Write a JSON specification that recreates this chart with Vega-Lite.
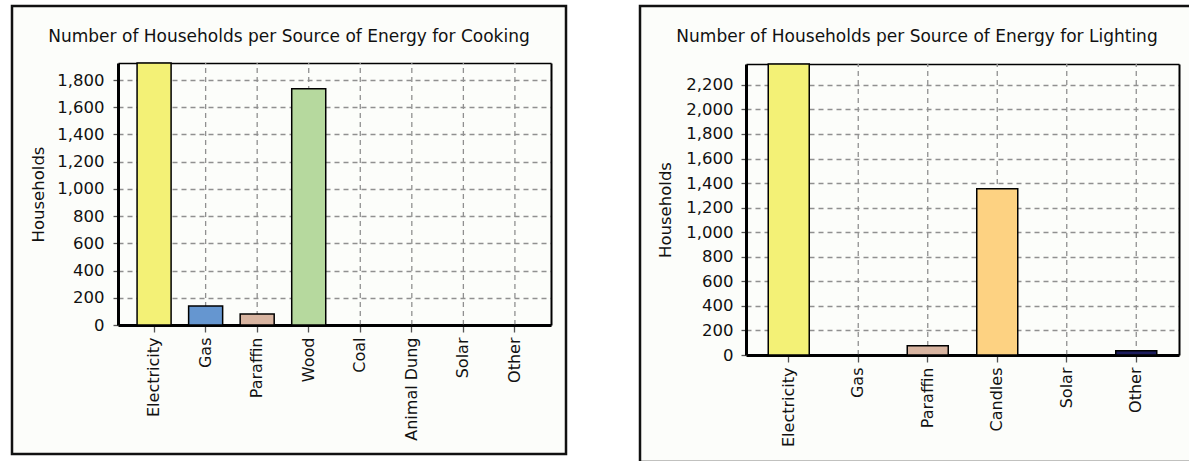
{
  "$schema": "https://vega.github.io/schema/vega-lite/v6.json",
  "padding": {"left": 10, "top": 4, "right": 0, "bottom": 0},
  "background": "#ffffff",
  "datasets": {
    "cooking": [
      {"source": "Electricity", "households": 2000},
      {"source": "Gas", "households": 140},
      {"source": "Paraffin", "households": 80},
      {"source": "Wood", "households": 1735},
      {"source": "Coal", "households": 0},
      {"source": "Animal Dung", "households": 0},
      {"source": "Solar", "households": 0},
      {"source": "Other", "households": 0}
    ],
    "lighting": [
      {"source": "Electricity", "households": 2450},
      {"source": "Gas", "households": 0},
      {"source": "Paraffin", "households": 75},
      {"source": "Candles", "households": 1355},
      {"source": "Solar", "households": 0},
      {"source": "Other", "households": 35}
    ]
  },
  "hconcat": [
    {
      "width": 554,
      "height": 448,
      "data": {"name": "cooking"},
      "title": {"text": "Number of Households per Source of Energy for Cooking", "offset": -53, "baseline": "alphabetic"},
      "layer": [
        {
          "mark": {"type": "rule", "stroke": "#909090", "strokeDash": [5, 4], "strokeWidth": 1.3},
          "encoding": {
            "x": {"field": "source", "type": "nominal", "sort": null, "axis": null},
            "y": {"datum": 0, "type": "quantitative", "axis": null},
            "y2": {"datum": 1925}
          }
        },
        {
          "mark": {"type": "bar", "stroke": "#000000", "strokeWidth": 1.5},
          "encoding": {
            "x": {
              "field": "source", "type": "nominal", "sort": null,
              "scale": {"range": [106, 539], "paddingInner": 0.34, "paddingOuter": 0.37},
              "axis": {"orient": "bottom", "offset": -129, "labelAngle": -90, "labelAlign": "right", "labelBaseline": "middle", "labelPadding": 5, "labelFontSize": 16, "tickSize": 7, "title": null, "grid": false}
            },
            "y": {
              "field": "households", "type": "quantitative",
              "scale": {"domain": [0, 1925], "range": [319, 57], "clamp": true, "nice": false},
              "axis": {"orient": "left", "offset": -106, "values": [0, 200, 400, 600, 800, 1000, 1200, 1400, 1600, 1800], "format": ",d", "tickSize": 5, "labelPadding": 9, "title": "Households", "titlePadding": 10, "grid": true}
            },
            "color": {
              "field": "source", "type": "nominal", "legend": null,
              "scale": {
                "domain": ["Electricity", "Gas", "Paraffin", "Wood", "Coal", "Animal Dung", "Solar", "Other"],
                "range": ["#f3f176", "#6596d0", "#d8b4a0", "#b6d99e", "#777777", "#a0785a", "#ffd24a", "#1c1c5e"]
              }
            }
          }
        },
        {
          "mark": {"type": "bar", "opacity": 0},
          "encoding": {
            "x": {"field": "source", "type": "nominal", "sort": null,
              "axis": {"orient": "top", "offset": -57, "labels": false, "ticks": false, "grid": false, "title": null, "domainWidth": 1.5}},
            "y": {"field": "households", "type": "quantitative",
              "axis": {"orient": "right", "offset": -15, "labels": false, "ticks": false, "grid": false, "title": null, "domainWidth": 2}}
          }
        }
      ],
      "resolve": {"axis": {"x": "independent", "y": "independent"}}
    },
    {
      "width": 554,
      "height": 456,
      "data": {"name": "lighting"},
      "title": {"text": "Number of Households per Source of Energy for Lighting", "offset": -53, "baseline": "alphabetic"},
      "layer": [
        {
          "mark": {"type": "rule", "stroke": "#909090", "strokeDash": [5, 4], "strokeWidth": 1.3},
          "encoding": {
            "x": {"field": "source", "type": "nominal", "sort": null, "axis": null},
            "y": {"datum": 0, "type": "quantitative", "axis": null},
            "y2": {"datum": 2370}
          }
        },
        {
          "mark": {"type": "bar", "stroke": "#000000", "strokeWidth": 1.5},
          "encoding": {
            "x": {
              "field": "source", "type": "nominal", "sort": null,
              "scale": {"range": [106, 539], "paddingInner": 0.41, "paddingOuter": 0.32},
              "axis": {"orient": "bottom", "offset": -107, "labelAngle": -90, "labelAlign": "right", "labelBaseline": "middle", "labelPadding": 5, "labelFontSize": 16, "tickSize": 7, "title": null, "grid": false}
            },
            "y": {
              "field": "households", "type": "quantitative",
              "scale": {"domain": [0, 2370], "range": [349, 58], "clamp": true, "nice": false},
              "axis": {"orient": "left", "offset": -106, "values": [0, 200, 400, 600, 800, 1000, 1200, 1400, 1600, 1800, 2000, 2200], "format": ",d", "tickSize": 5, "labelPadding": 8, "title": "Households", "titlePadding": 12, "grid": true}
            },
            "color": {
              "field": "source", "type": "nominal", "legend": null,
              "scale": {
                "domain": ["Electricity", "Gas", "Paraffin", "Candles", "Solar", "Other"],
                "range": ["#f3f176", "#6596d0", "#d8b4a0", "#fdd282", "#ffd24a", "#1c1c5e"]
              }
            }
          }
        },
        {
          "mark": {"type": "bar", "opacity": 0},
          "encoding": {
            "x": {"field": "source", "type": "nominal", "sort": null,
              "axis": {"orient": "top", "offset": -58, "labels": false, "ticks": false, "grid": false, "title": null, "domainWidth": 1.5}},
            "y": {"field": "households", "type": "quantitative",
              "axis": {"orient": "right", "offset": -15, "labels": false, "ticks": false, "grid": false, "title": null, "domainWidth": 2}}
          }
        }
      ],
      "resolve": {"axis": {"x": "independent", "y": "independent"}}
    }
  ],
  "resolve": {"scale": {"color": "independent"}},
  "config": {
    "concat": {"spacing": 70},
    "view": {"stroke": "#111111", "strokeWidth": 2.5, "fill": "#fcfdfa"},
    "font": "DejaVu Sans",
    "title": {"font": "DejaVu Sans", "fontSize": 17, "fontWeight": "normal", "color": "#111111", "anchor": "middle", "frame": "group"},
    "axis": {
      "labelFont": "DejaVu Sans", "labelFontSize": 16.5, "labelColor": "#111111",
      "titleFont": "DejaVu Sans", "titleFontSize": 16.5, "titleFontWeight": "normal", "titleColor": "#111111",
      "gridColor": "#909090", "gridDash": [5, 4], "gridWidth": 1.3, "gridOpacity": 1,
      "tickColor": "#555555", "tickWidth": 1.3,
      "domainColor": "#000000", "domainWidth": 3
    }
  }
}
